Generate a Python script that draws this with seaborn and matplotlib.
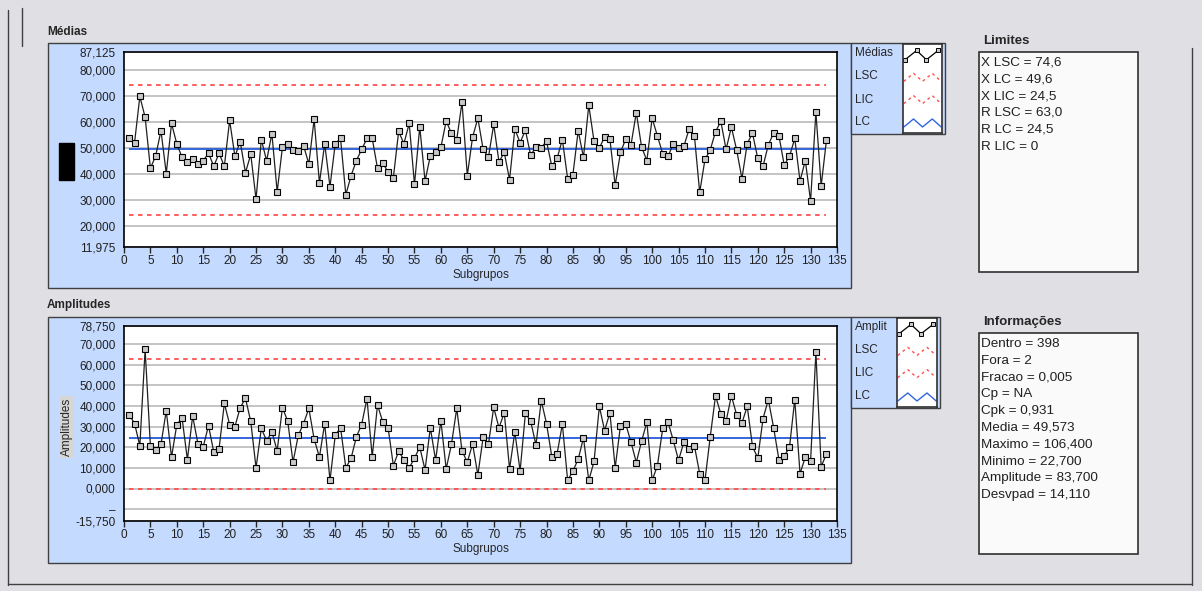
import pandas as pd
import seaborn as sns
import matplotlib.pyplot as plt
from matplotlib.patches import Rectangle
from matplotlib.lines import Line2D

# data
medias = [53.8, 52.2, 70.0, 62.0, 42.3, 47.1, 56.8, 40.3, 59.6, 51.7,
          46.5, 44.8, 45.7, 43.9, 45.2, 48.1, 43.1, 48.1, 43.1, 60.8,
          46.9, 52.6, 40.6, 47.7, 30.4, 53.4, 45.2, 55.7, 33.2, 50.5,
          51.8, 49.5, 48.8, 51.0, 44.0, 61.2, 36.6, 51.8, 35.2, 51.8,
          53.8, 32.1, 39.5, 45.3, 49.6, 53.8, 53.8, 42.3, 44.4, 40.8,
          38.7, 56.5, 51.8, 59.6, 36.1, 58.3, 37.4, 47.1, 48.4, 50.4,
          60.5, 55.8, 53.4, 67.8, 39.5, 54.3, 61.6, 49.6, 46.5, 59.2,
          44.8, 48.4, 37.9, 57.4, 52.2, 57.0, 47.3, 50.6, 50.3, 52.7,
          43.1, 46.1, 53.4, 38.3, 39.9, 56.8, 46.5, 66.6, 52.7, 50.1,
          54.4, 53.6, 35.7, 48.4, 53.6, 51.4, 63.8, 50.5, 45.3, 61.6,
          54.7, 47.9, 46.9, 51.7, 50.0, 50.8, 57.4, 54.9, 33.0, 45.7,
          49.4, 56.4, 60.4, 49.6, 58.2, 49.4, 38.3, 51.8, 55.8, 46.1,
          43.1, 51.4, 55.8, 54.9, 43.6, 46.9, 53.8, 37.4, 45.3, 29.7,
          64.0, 35.5, 53.1]

amplitudes = [35.7, 31.5, 20.7, 67.4, 20.7, 18.6, 21.4, 37.7, 15.2, 31.0,
              34.1, 14.0, 35.1, 21.7, 20.2, 30.5, 17.6, 19.3, 41.3, 31.0,
              30.0, 39.2, 43.7, 32.5, 10.0, 29.1, 23.2, 27.4, 18.3, 39.2,
              32.6, 12.7, 25.8, 31.5, 38.8, 24.0, 15.2, 31.5, 3.9, 25.8,
              29.5, 10.0, 14.7, 25.0, 31.0, 43.6, 15.4, 40.5, 32.2, 29.5,
              11.1, 18.0, 14.0, 10.0, 14.7, 20.1, 9.0, 29.5, 13.7, 32.8,
              9.5, 21.4, 38.8, 18.3, 12.7, 21.6, 6.5, 24.8, 21.4, 39.3,
              29.4, 36.7, 9.5, 27.4, 8.5, 36.4, 32.6, 21.1, 42.6, 31.5,
              15.4, 16.8, 31.2, 3.9, 8.5, 14.2, 24.6, 3.9, 13.1, 39.8,
              28.1, 36.7, 10.0, 30.5, 31.2, 22.4, 12.6, 22.9, 32.2, 3.9,
              11.1, 29.1, 32.2, 23.3, 13.7, 22.4, 19.3, 20.7, 7.2, 3.9,
              25.1, 44.9, 36.2, 32.6, 44.9, 35.7, 31.7, 39.8, 20.4, 14.7,
              33.9, 43.1, 29.5, 14.0, 15.8, 19.9, 43.1, 7.2, 15.2, 13.2,
              66.1, 10.6, 16.7]

subgrupos = list(range(1, len(medias) + 1))

x_lsc, x_lc, x_lic = 74.6, 49.6, 24.5
r_lsc, r_lc, r_lic = 63.0, 24.5, 0.0

yticks_medias = [11.975, 20, 30, 40, 50, 60, 70, 80, 87.125]
yticks_ampl = [-15.75, -10, 0, 10, 20, 30, 40, 50, 60, 70, 78.75]

limites_txt = ["X LSC = 74,6", "X LC = 49,6", "X LIC = 24,5",
               "R LSC = 63,0", "R LC = 24,5", "R LIC = 0"]
info_txt = ["Dentro = 398", "Fora = 2", "Fracao = 0,005", "Cp = NA",
            "Cpk = 0,931", "Media = 49,573", "Maximo = 106,400",
            "Minimo = 22,700", "Amplitude = 83,700", "Desvpad = 14,110"]

df = pd.DataFrame({"Subgrupo": subgrupos, "Medias": medias, "Amplitudes": amplitudes})

sns.set_style("white")
plt.rcParams['font.family'] = ['Liberation Sans', 'DejaVu Sans']

W, H = 1202, 591
BG = '#e0dfe3'
BLUE = '#c4daff'
RED = '#ff5050'
LCBLUE = '#3366dd'
FS = 8.5

fig = plt.figure(figsize=(W / 100, H / 100), dpi=100)
fig.patch.set_facecolor(BG)


def box(x0, y0, x1, y1):
    return [x0 / W, 1 - y1 / H, (x1 - x0) / W, (y1 - y0) / H]


def rect(x0, y0, x1, y1, fc, ec='#404040', lw=1.0):
    fig.add_artist(Rectangle((x0 / W, 1 - y1 / H), (x1 - x0) / W, (y1 - y0) / H,
                             transform=fig.transFigure, fc=fc, ec=ec, lw=lw, zorder=-1))


def fline(xs, ys, color='#404040', lw=1.0):
    fig.add_artist(Line2D([x / W for x in xs], [1 - y / H for y in ys],
                          transform=fig.transFigure, color=color, lw=lw, zorder=-1))


def fmt(v):
    return f"{v:.3f}".replace('.', ',')


# outer frame
fline([8, 8], [10, 585])
fline([8, 1192], [584, 584])
fline([1192, 1192], [48, 585])
fline([22, 22], [8, 46])

# blue panels + legend boxes
rect(48, 43, 851, 288, BLUE)
rect(48, 317, 851, 563, BLUE)
rect(851, 43, 945, 134, BLUE)
rect(851, 317, 940, 408, BLUE)


def chart(pos, col, lsc, lc, lic, yticks, ylabels):
    ax = fig.add_axes(box(*pos))
    ax.set_facecolor('white')
    ax.set_ylim(yticks[0], yticks[-1])
    ax.set_xlim(0, 135)
    ax.set_yticks(yticks)
    ax.set_yticklabels(ylabels)
    ax.set_xticks(range(0, 136, 5))
    ax.yaxis.grid(True, color='#c4c4c4', lw=1.4)
    ax.set_axisbelow(True)
    ax.hlines([lsc, lic], 1, 133, colors=RED, linestyles=(0, (2.5, 2.5)), lw=1.3, zorder=2)
    ax.hlines(lc, 1, 133, colors=LCBLUE, lw=1.4, zorder=2)
    sns.lineplot(data=df, x='Subgrupo', y=col, ax=ax, color='#202020', lw=0.9,
                 marker='s', markersize=4.8, markerfacecolor='#c8c8c8',
                 markeredgecolor='black', markeredgewidth=0.8, zorder=3)
    ax.set_xlabel('Subgrupos', fontsize=FS, labelpad=1)
    ax.set_ylabel('')
    ax.tick_params(axis='y', length=0, pad=6, labelsize=FS, labelcolor='#202020')
    ax.tick_params(axis='x', length=4, width=1, direction='out', pad=2,
                   labelsize=FS, bottom=True, labelcolor='#202020')
    for s in ax.spines.values():
        s.set_color('black')
        s.set_linewidth(1.2)
    return ax


chart((124, 52, 837, 247), 'Medias', x_lsc, x_lc, x_lic,
      yticks_medias, [fmt(v) for v in yticks_medias])
ampl_labels = [fmt(v) for v in yticks_ampl]
ampl_labels[1] = '–'
chart((124, 326, 837, 521), 'Amplitudes', r_lsc, r_lc, r_lic,
      yticks_ampl, ampl_labels)

# titles
fig.text(47 / W, 1 - 32 / H, 'Médias', fontsize=FS, fontweight='bold', va='center')
fig.text(47 / W, 1 - 305 / H, 'Amplitudes', fontsize=FS, fontweight='bold', va='center')

# y label placeholder (black block) and rotated amplitude label
rect(59, 143, 74, 180, 'black', ec='black')
fig.text(67 / W, 1 - 427 / H, 'Amplitudes', rotation=90, ha='center', va='center',
         fontsize=FS, bbox=dict(fc='#d6d6d6', ec='none', pad=1))


def legend_box(pos, names, ys):
    for name, y in zip(names, ys):
        fig.text(855 / W, 1 - y / H, name, fontsize=FS, va='center')
    lg = fig.add_axes(box(*pos))
    lg.set_xlim(0, 1)
    lg.set_ylim(0, 4)
    lg.set_xticks([])
    lg.set_yticks([])
    for s in lg.spines.values():
        s.set_color('#303030')
        s.set_linewidth(1.2)
    zx = [0.05, 0.35, 0.6, 0.9, 1.0]
    zy = [0.2, 0.8, 0.2, 0.8, 0.5]
    lg.plot(zx[:4], [3.15 + v * 0.7 for v in zy[:4]], color='black', lw=0.9, marker='s',
            markersize=3.5, markerfacecolor='#c8c8c8', markeredgecolor='black', markeredgewidth=0.7)
    wx = [0.02, 0.27, 0.5, 0.75, 0.98]
    wy = [0.2, 0.8, 0.2, 0.8, 0.2]
    for row in (2, 1):
        lg.plot(wx, [row + 0.2 + v * 0.6 for v in wy], color=RED, lw=1,
                ls=(0, (2, 2.5)))
    lg.plot(wx, [0.15 + v * 0.6 for v in wy], color=LCBLUE, lw=1)


legend_box((903, 44, 942, 133), ['Médias', 'LSC', 'LIC', 'LC'], [53, 76, 100, 122])
legend_box((897, 318, 937, 407), ['Amplit', 'LSC', 'LIC', 'LC'], [327, 350, 373, 396])

# info boxes
rect(979, 52, 1138, 272, '#fafafa', ec='#303030', lw=1.2)
rect(979, 333, 1138, 554, '#fafafa', ec='#303030', lw=1.2)
fig.text(983 / W, 1 - 41 / H, 'Limites', fontsize=9.5, fontweight='bold', va='center')
fig.text(983 / W, 1 - 322 / H, 'Informações', fontsize=9.5, fontweight='bold', va='center')
for i, t in enumerate(limites_txt):
    fig.text(981 / W, 1 - (62.5 + i * 16.8) / H, t, fontsize=9.7, va='center', color='#202020')
for i, t in enumerate(info_txt):
    fig.text(981 / W, 1 - (344 + i * 16.8) / H, t, fontsize=9.7, va='center', color='#202020')

fig.savefig('out.png', dpi=100, facecolor=BG)
